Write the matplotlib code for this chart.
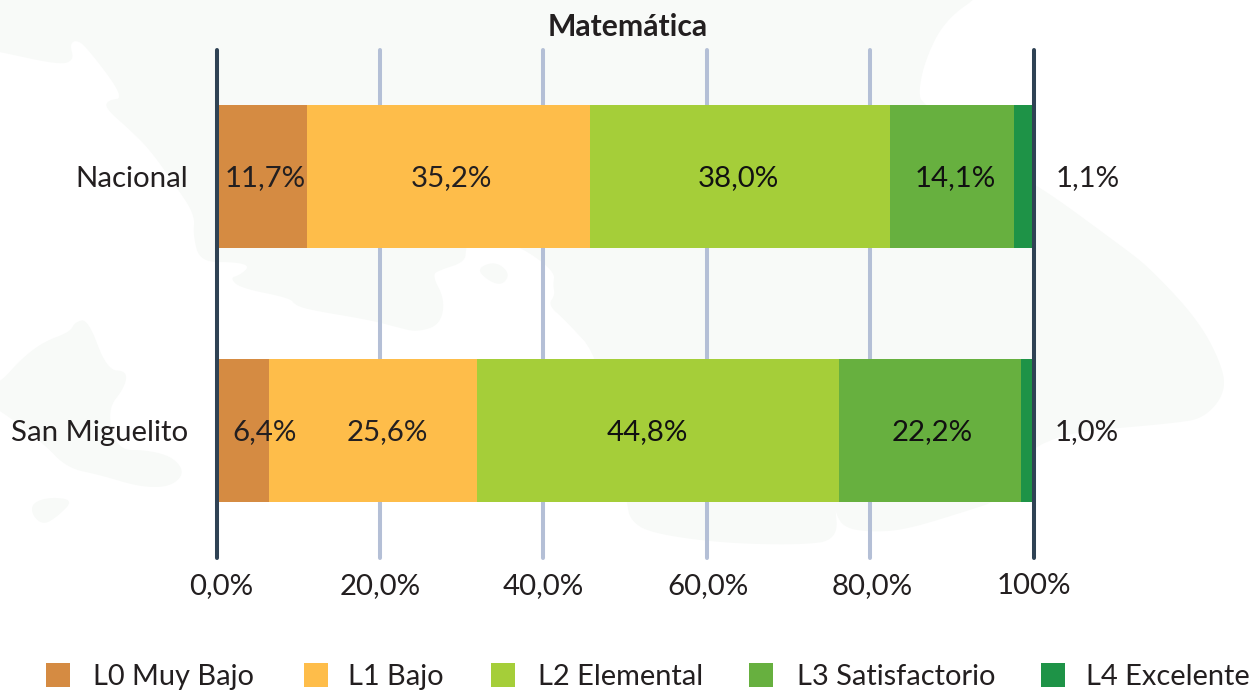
import numpy as np
import matplotlib
matplotlib.use("Agg")
import matplotlib.pyplot as plt
from matplotlib.patches import Polygon, Rectangle
from matplotlib.transforms import ScaledTranslation

plt.rcParams['font.family'] = ['Lato', 'Open Sans', 'DejaVu Sans']

W, H = 1258, 690

categories = ["Nacional", "San Miguelito"]
levels = ["L0 Muy Bajo", "L1 Bajo", "L2 Elemental", "L3 Satisfactorio", "L4 Excelente"]
colors = ["#d58b42", "#febd4a", "#a5ce39", "#67b03f", "#1e9347"]

# bar lengths as drawn in the picture
nacional_bars = [11.1, 34.6, 36.7, 15.2, 2.4]
miguelito_bars = [6.4, 25.5, 44.3, 22.3, 1.5]
# printed labels
nacional_labels = ["11,7%", "35,2%", "38,0%", "14,1%", "1,1%"]
miguelito_labels = ["6,4%", "25,6%", "44,8%", "22,2%", "1,0%"]
# label anchors on the value axis
nacional_label_x = [5.95, 28.7, 63.9, 90.4, 106.6]
miguelito_label_x = [5.85, 20.9, 52.7, 87.6, 106.5]

ticks = [0, 20, 40, 60, 80, 100]
tick_labels = ["0,0%", "20,0%", "40,0%", "60,0%", "80,0%", "100%"]
tick_label_shift_px = [4.5, 0, 0, 1, 2, 0]

legend_swatch_x = [46, 304, 491, 749, 1041]
legend_text_x = [93, 348, 538, 797, 1086]

# pale decorative map behind the chart (pixel outline, decoration only)
map_main = [(-60,-60),(1010,-60),(985,-8),(945,20),(925,60),(918,95),(925,105),(1000,170),(1034,182),(1120,245),(1150,268),
    (1200,322),(1224,370),(1224,395),(1205,417),(1180,423),(1034,435),(1000,500),(970,510),(905,530),(870,532),
    (845,528),(836,515),(835,502),(838,540),(800,545),(720,543),(650,533),(630,520),(627,502),(600,358),
    (565,320),(548,305),(555,295),(553,285),(555,272),(523,248),(495,240),(470,236),(466,248),(465,262),(440,270),
    (432,275),(445,300),(440,325),(417,332),(400,328),(370,320),(310,310),(295,305),(290,298),(240,288),(230,278),
    (240,275),(250,266),(235,262),(200,262),(193,235),(195,215),(175,185),(150,150),(130,130),(105,108),(108,100),
    (125,98),(85,45),(75,40),(70,45),(74,60),(60,65),(0,52),(-60,40)]
map_island_a = [(-30,395),(0,383),(20,360),(43,342),(70,332),(75,322),(88,319),(107,370),(127,371),(125,387),(107,410),
    (117,450),(147,450),(173,457),(185,473),(170,487),(140,487),(100,475),(67,468),(43,443),(0,410)]
map_island_b = [(32,503),(50,497),(74,500),(57,517),(43,525),(32,515)]
map_island_c = [(476,269),(495,261),(510,273),(503,285),(490,282)]


def smooth(pts, n=3):
    p = np.array(pts, float)
    for _ in range(n):
        q = np.roll(p, -1, axis=0)
        p = np.column_stack([0.75*p + 0.25*q, 0.25*p + 0.75*q]).reshape(-1, 2)
    return p


fig = plt.figure(figsize=(W/100, H/100), dpi=100, facecolor="white")

bg = fig.add_axes([0, 0, 1, 1], zorder=0)
bg.set_xlim(0, W)
bg.set_ylim(H, 0)
bg.axis("off")
for shape in (map_main, map_island_a, map_island_b, map_island_c):
    bg.add_patch(Polygon(smooth(shape), closed=True, fc="#f8faf8", ec="none"))
# legend swatches
for x, c in zip(legend_swatch_x, colors):
    bg.add_patch(Rectangle((x, 663), 24, 24, fc=c, ec="none"))
for x, t in zip(legend_text_x, levels):
    bg.text(x, 677, t, fontsize=20.9, color="#231f20", ha="left", va="center", clip_on=False)

ax_l, ax_r, ax_t, ax_b = 216.5, 1033.5, 50, 558
ax = fig.add_axes([ax_l/W, 1-ax_b/H, (ax_r-ax_l)/W, (ax_b-ax_t)/H], zorder=1)
ax.patch.set_alpha(0)
pitch = 254.0
ax.set_xlim(0, 100)
ax.set_ylim((ax_b-176.5)/pitch, (ax_t-176.5)/pitch)
for s in ax.spines.values():
    s.set_visible(False)

for t in ticks:
    edge = t in (0, 100)
    ax.axvline(t, color="#2f4254" if edge else "#b4bfd6", lw=2.9, solid_capstyle="round",
               clip_on=False, zorder=5 if edge else 1)

for row, (vals, labs, xs) in enumerate([(nacional_bars, nacional_labels, nacional_label_x),
                                        (miguelito_bars, miguelito_labels, miguelito_label_x)]):
    left = 0
    for v, c in zip(vals, colors):
        ax.barh(row, v, left=left, height=0.563, color=c, edgecolor="none", zorder=3)
        left += v
    for i, (x, t) in enumerate(zip(xs, labs)):
        ax.text(x, row + 0.005, t, fontsize=21.2, ha="center", va="center", clip_on=False, zorder=6,
                color="#231f20" if (i == 4 or i < 2) else "#111111")

ax.set_yticks([0, 1], categories)
ax.set_xticks(ticks, tick_labels)
ax.tick_params(axis="both", length=0, labelsize=21.2, labelcolor="#231f20")
ax.tick_params(axis="y", pad=20.5)
ax.tick_params(axis="x", pad=11)
for lab, dx in zip(ax.get_xticklabels(), tick_label_shift_px):
    lab.set_transform(lab.get_transform() + ScaledTranslation(dx/100, 0, fig.dpi_scale_trans))

fig.text(627.5/W, 1-27/H, "Matemática", fontsize=21.7, fontweight="bold", color="#231f20",
         ha="center", va="center")

fig.savefig("out.png", dpi=100)
